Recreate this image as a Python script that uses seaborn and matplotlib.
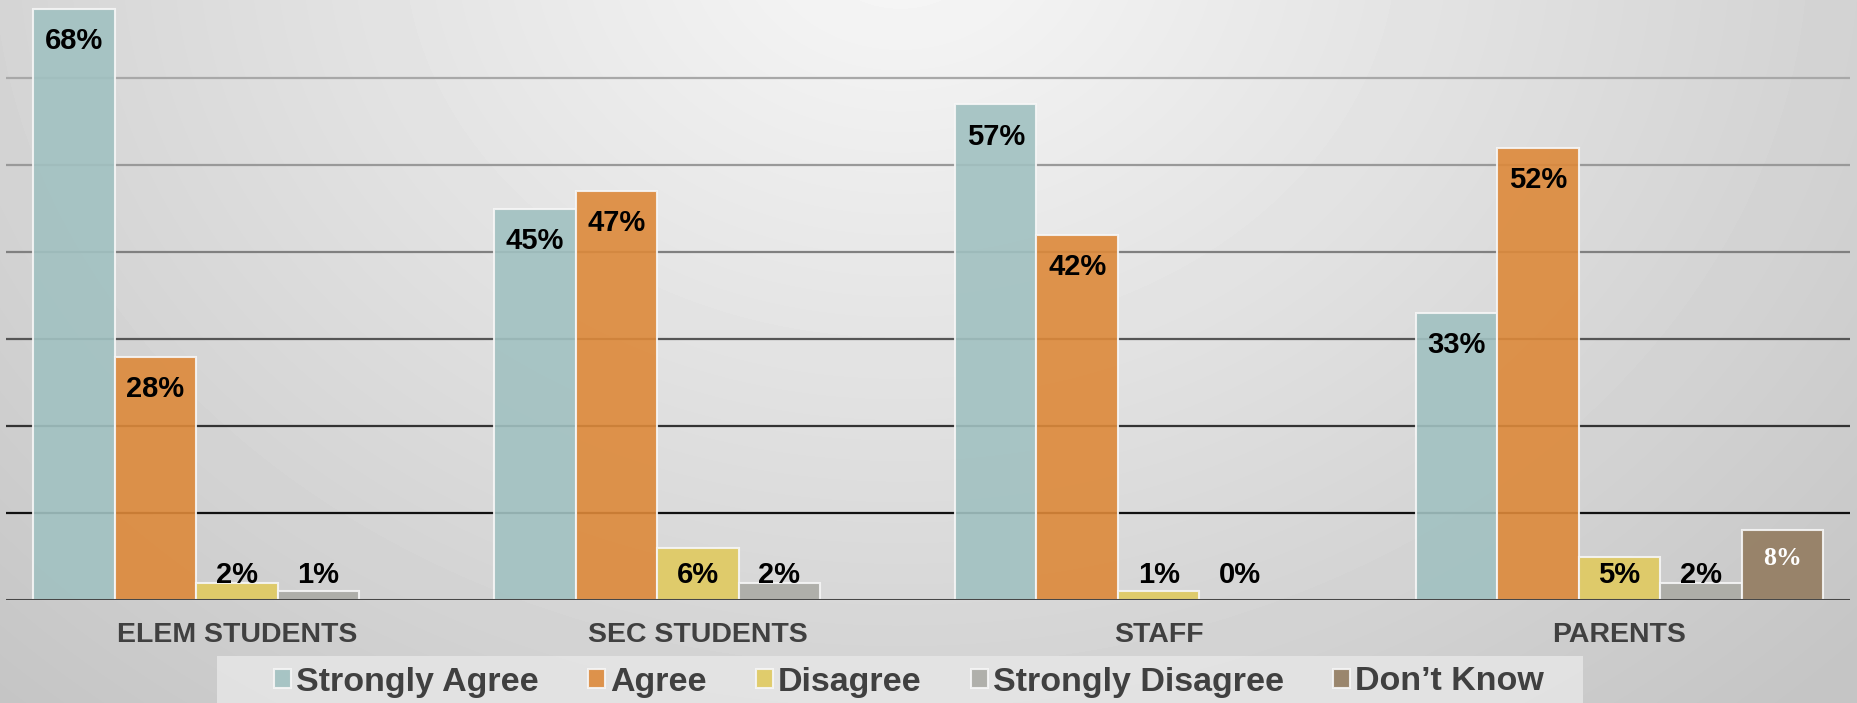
import numpy as np
import pandas as pd
import seaborn as sns
import matplotlib.pyplot as plt
from matplotlib.patches import Rectangle

# survey results, percent
groups = ["ELEM STUDENTS", "SEC STUDENTS", "STAFF", "PARENTS"]
responses = ["Strongly Agree", "Agree", "Disagree", "Strongly Disagree", "Don\u2019t Know"]
elem = [68, 28, 2, 1, None]
sec = [45, 47, 6, 2, None]
staff = [57, 42, 1, 0, None]
parents = [33, 52, 5, 2, 8]
colors = ["#A1C1C1", "#DD893A", "#E0CA5F", "#ABABA5", "#937C60"]

rows = []
for g, vals in zip(groups, [elem, sec, staff, parents]):
    for r, v in zip(responses, vals):
        if v is not None:
            rows.append({"group": g, "response": r, "pct": v})
df = pd.DataFrame(rows)

sns.set_theme(style="white")
plt.rcParams["font.family"] = ["Liberation Sans", "DejaVu Sans"]

W, H = 1858, 703
fig = plt.figure(figsize=(W / 100, H / 100), dpi=100)

# radial grey background
bg = fig.add_axes([0, 0, 1, 1], zorder=-10)
yy, xx = np.mgrid[0:H, 0:W]
d = np.hypot(xx - 900, (yy + 60) * 1.25)
shade = np.clip(0.97 - d / 1250 * 0.19, 0.77, 0.97)
bg.imshow(shade, cmap="gray", vmin=0, vmax=1, aspect="auto")
bg.axis("off")

ax = fig.add_axes([6.5 / W, 103 / H, (1850 - 6.5) / W, 600 / H])
ax.patch.set_alpha(0)

# gridlines get darker toward the bottom
grid_colors = {10: "#111111", 20: "#333333", 30: "#555555",
               40: "#808080", 50: "#999999", 60: "#A8A8A8"}
for yv, c in grid_colors.items():
    ax.axhline(yv, color=c, lw=1.6, zorder=0.5)

sns.barplot(data=df, x="group", y="pct", hue="response", order=groups,
            hue_order=responses, palette=colors, saturation=1, width=0.884,
            gap=0, alpha=0.9, edgecolor="#F6F6F6", linewidth=1.5, ax=ax)

ax.axhline(0, color="#474747", lw=2.2, zorder=5)

for container, resp in zip(ax.containers, responses):
    for bar in container:
        h = bar.get_height()
        if np.isnan(h):
            continue
        x = bar.get_x() + bar.get_width() / 2
        y = max(h - 3.7, 2.9)
        if resp == responses[-1]:
            ax.text(x, h - 3.2, f"{h:.0f}%", ha="center", va="center",
                    color="white", fontsize=18.5, fontweight="bold",
                    family="Liberation Serif", zorder=6)
        else:
            ax.text(x, y, f"{h:.0f}%", ha="center", va="center",
                    color="black", fontsize=21, fontweight="bold", zorder=6)

ax.set_ylim(0, 69.0)
ax.set_xlim(-0.5, 3.5)
ax.set_yticks([])
ax.set_xlabel("")
ax.set_ylabel("")
ax.tick_params(axis="x", length=0, pad=16, labelsize=20.5, labelcolor="#404040")
for t in ax.get_xticklabels():
    t.set_fontweight("bold")
for s in ax.spines.values():
    s.set_visible(False)

handles, labels = ax.get_legend_handles_labels()
ax.get_legend().remove()

# legend panel, cut off by the bottom edge
fig.patches.append(Rectangle((217 / W, 0), (1583 - 217) / W, (H - 656) / H,
                             transform=fig.transFigure, facecolor="#E6E6E6",
                             edgecolor="none", alpha=0.85, zorder=1))
fig.legend(handles, labels, loc="center", bbox_to_anchor=(909 / W, 21 / H),
           ncol=5, frameon=False, handlelength=0.5, handleheight=0.5,
           handletextpad=0.15, columnspacing=1.45, borderpad=0,
           prop={"weight": "bold", "size": 24.5}, labelcolor="#404040")

fig.savefig("out.png", dpi=100)
